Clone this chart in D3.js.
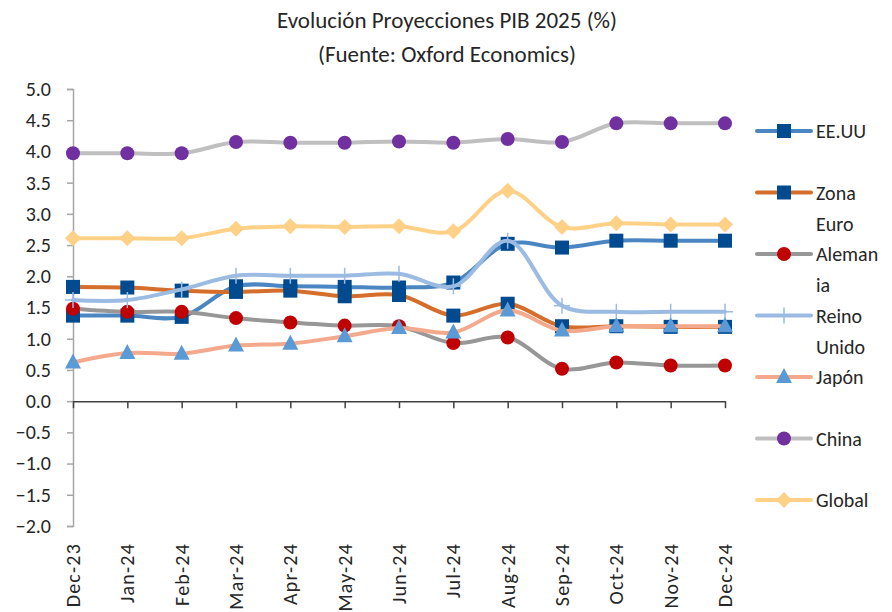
<!DOCTYPE html>
<html lang="es">
<head>
  <meta charset="UTF-8" />
  <title>Evolución Proyecciones PIB 2025</title>
  <script src="https://d3js.org/d3.v7.min.js"></script>
  <style>
    body { margin: 0; background: white; }
    svg text { font-family: "Carlito", "Lato", sans-serif; font-weight: 300; fill: #262626; }
  </style>
</head>
<body>
  <svg id="chart" width="892" height="612"></svg>

  <script>
    // data
    const months = ["Dec-23", "Jan-24", "Feb-24", "Mar-24", "Apr-24", "May-24", "Jun-24",
                    "Jul-24", "Aug-24", "Sep-24", "Oct-24", "Nov-24", "Dec-24"];
    const yTicks = [5, 4.5, 4, 3.5, 3, 2.5, 2, 1.5, 1, 0.5, 0, -0.5, -1, -1.5, -2];

    const eeuu      = [1.37, 1.37, 1.35, 1.84, 1.84, 1.83, 1.82, 1.90, 2.52, 2.46, 2.57, 2.57, 2.57];
    const zonaEuro  = [1.83, 1.82, 1.77, 1.75, 1.77, 1.68, 1.70, 1.37, 1.56, 1.20, 1.20, 1.19, 1.19];
    const alemania  = [1.48, 1.43, 1.43, 1.33, 1.26, 1.21, 1.20, 0.93, 1.02, 0.52, 0.62, 0.57, 0.57];
    const reinoUnido= [1.62, 1.62, 1.79, 2.01, 2.01, 2.01, 2.04, 1.84, 2.57, 1.53, 1.43, 1.43, 1.43];
    const japon     = [0.62, 0.77, 0.76, 0.89, 0.92, 1.04, 1.17, 1.10, 1.45, 1.13, 1.20, 1.20, 1.20];
    const china     = [3.97, 3.97, 3.97, 4.15, 4.14, 4.14, 4.16, 4.14, 4.20, 4.15, 4.45, 4.45, 4.45];
    const global    = [2.61, 2.61, 2.61, 2.76, 2.80, 2.79, 2.80, 2.72, 3.37, 2.79, 2.85, 2.83, 2.83];

    const series = [
      { name: ["EE.UU"], values: eeuu, line: "#4a86c2", marker: "square", mcolor: "#004a8f" },
      { name: ["Zona", "Euro"], values: zonaEuro, line: "#d46e2a", marker: "square", mcolor: "#004a8f" },
      { name: ["Aleman", "ia"], values: alemania, line: "#979797", marker: "circle", mcolor: "#c00000" },
      { name: ["Reino", "Unido"], values: reinoUnido, line: "#9bbbe2", marker: "plus", mcolor: "#9bbbe2" },
      { name: ["Japón"], values: japon, line: "#f4a98c", marker: "triangle", mcolor: "#5a9ad6" },
      { name: ["China"], values: china, line: "#bfbfbf", marker: "circle", mcolor: "#7030a0" },
      { name: ["Global"], values: global, line: "#ffd187", marker: "diamond", mcolor: "#ffd187" }
    ];

    const svg = d3.select("#chart");

    const x = d3.scalePoint().domain(months).range([73, 725]);
    const y = d3.scaleLinear().domain([-2, 5]).range([526, 89]);

    // title
    svg.append("text").attr("x", 447).attr("y", 28).attr("text-anchor", "middle")
      .style("font-size", "23px").text("Evolución Proyecciones PIB 2025 (%)");
    svg.append("text").attr("x", 447).attr("y", 62).attr("text-anchor", "middle")
      .style("font-size", "23px").text("(Fuente: Oxford Economics)");

    // y axis
    const yAxis = svg.append("g").attr("transform", "translate(73,0)")
      .call(d3.axisLeft(y).tickValues(yTicks).tickFormat(d3.format(".1f")).tickSize(6).tickSizeOuter(6));
    yAxis.select(".domain").attr("stroke", "#a6a6a6").attr("stroke-width", 1.5);
    yAxis.selectAll(".tick line").attr("stroke", "#a6a6a6").attr("stroke-width", 1.5);
    yAxis.selectAll(".tick text").attr("x", -22).style("font-size", "20px")
      .style("font-family", "Carlito, Lato, sans-serif").style("font-weight", 300).attr("fill", "#262626");

    // x axis at zero, labels at bottom
    const xAxis = svg.append("g").attr("transform", `translate(0,${y(0)})`)
      .call(d3.axisBottom(x).tickSize(7).tickSizeOuter(0).tickFormat(""));
    xAxis.select(".domain").attr("stroke", "#404040").attr("stroke-width", 1.5);
    xAxis.selectAll(".tick line").attr("stroke", "#404040").attr("stroke-width", 1.5);

    svg.append("g").selectAll("text").data(months).join("text")
      .attr("transform", d => `translate(${x(d) + 7},543) rotate(-90)`)
      .attr("text-anchor", "end")
      .style("font-size", "20px")
      .style("letter-spacing", "1.2px")
      .text(d => d);

    const line = d3.line()
      .x((d, i) => x(months[i]))
      .y(d => y(d))
      .curve(d3.curveCatmullRom.alpha(0.5));

    function drawMarker(g, type, color, cx, cy) {
      if (type === "square") {
        g.append("rect").attr("x", cx - 7).attr("y", cy - 7).attr("width", 14).attr("height", 14)
          .attr("fill", color);
      } else if (type === "circle") {
        g.append("circle").attr("cx", cx).attr("cy", cy).attr("r", 7).attr("fill", color);
      } else if (type === "triangle") {
        g.append("path").attr("d", `M${cx},${cy - 9}L${cx + 8},${cy + 6}L${cx - 8},${cy + 6}Z`)
          .attr("fill", color);
      } else if (type === "diamond") {
        g.append("path").attr("d", `M${cx},${cy - 8}L${cx + 8},${cy}L${cx},${cy + 8}L${cx - 8},${cy}Z`)
          .attr("fill", color);
      } else if (type === "plus") {
        g.append("path").attr("d", `M${cx - 8},${cy}H${cx + 8}M${cx},${cy - 8}V${cy + 8}`)
          .attr("stroke", color).attr("stroke-width", 1.5).attr("fill", "none");
      }
    }

    const plot = svg.append("g");
    series.forEach(s => {
      const g = plot.append("g");
      g.append("path").datum(s.values).attr("d", line)
        .attr("fill", "none").attr("stroke", s.line).attr("stroke-width", 4)
        .attr("stroke-linejoin", "round").attr("stroke-linecap", "round");
      s.values.forEach((v, i) => drawMarker(g, s.marker, s.mcolor, x(months[i]), y(v)));
    });

    // legend
    const legend = svg.append("g");
    series.forEach((s, i) => {
      const ly = 131 + i * 61.5;
      const g = legend.append("g");
      g.append("line").attr("x1", 757).attr("x2", 811).attr("y1", ly).attr("y2", ly)
        .attr("stroke", s.line).attr("stroke-width", 4).attr("stroke-linecap", "round");
      drawMarker(g, s.marker, s.mcolor, 784, ly);
      s.name.forEach((t, j) => {
        g.append("text").attr("x", 816).attr("y", ly + 7 + j * 31)
          .style("font-size", "20px").text(t);
      });
    });
  </script>
</body>
</html>
